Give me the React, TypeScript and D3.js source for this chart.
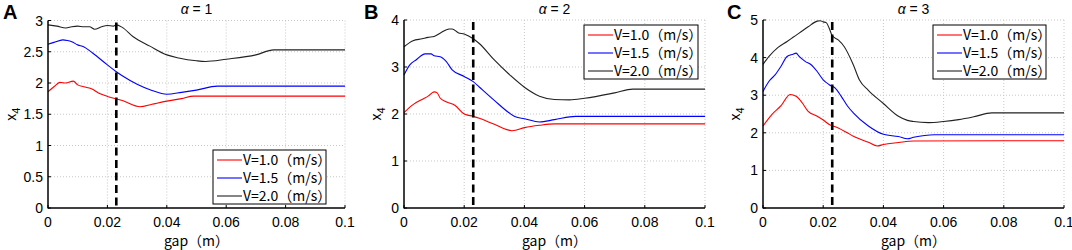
import React from "react";
import * as d3 from "d3";

// ---------- data ----------
const xTicks = [0, 0.02, 0.04, 0.06, 0.08, 0.1];
const xTickLabels = ["0", "0.02", "0.04", "0.06", "0.08", "0.1"];
const seriesNames = ["V=1.0（m/s）", "V=1.5（m/s）", "V=2.0（m/s）"];
const seriesColors = ["#ff0000", "#0000ff", "#222222"];
const dashedGap = 0.023;

// Panel A (alpha = 1)
const gapA10 = [0, 0.002, 0.004, 0.006, 0.0085, 0.01, 0.012, 0.015, 0.017, 0.02, 0.025, 0.031, 0.035, 0.04, 0.045, 0.049, 0.1];
const valA10 = [1.86, 1.94, 2.01, 2.0, 2.03, 1.97, 1.94, 1.9, 1.84, 1.785, 1.72, 1.62, 1.66, 1.71, 1.75, 1.79, 1.79];
const gapA15 = [0, 0.002, 0.005, 0.0065, 0.008, 0.01, 0.012, 0.015, 0.02, 0.023, 0.025, 0.03, 0.035, 0.04, 0.045, 0.05, 0.057, 0.1];
const valA15 = [2.62, 2.65, 2.69, 2.68, 2.66, 2.61, 2.58, 2.48, 2.29, 2.18, 2.115, 1.98, 1.88, 1.82, 1.85, 1.886, 1.95, 1.95];
const gapA20 = [0, 0.003, 0.006, 0.008, 0.01, 0.012, 0.014, 0.0157, 0.018, 0.02, 0.022, 0.023, 0.025, 0.0287, 0.0343, 0.04, 0.044, 0.05, 0.053, 0.06, 0.07, 0.076, 0.1];
const valA20 = [2.93, 2.91, 2.88, 2.9, 2.91, 2.9, 2.9, 2.86, 2.9, 2.92, 2.91, 2.93, 2.89, 2.74, 2.59, 2.45, 2.4, 2.355, 2.345, 2.38, 2.45, 2.53, 2.53];

// Panel B (alpha = 2)
const gapB10 = [0, 0.003, 0.006, 0.008, 0.01, 0.011, 0.012, 0.014, 0.017, 0.02, 0.023, 0.025, 0.03, 0.036, 0.04, 0.045, 0.05, 0.1];
const valB10 = [2.03, 2.2, 2.31, 2.38, 2.47, 2.45, 2.34, 2.26, 2.18, 2.0, 1.95, 1.91, 1.78, 1.645, 1.71, 1.76, 1.79, 1.79];
const gapB15 = [0, 0.002, 0.004, 0.007, 0.009, 0.01, 0.012, 0.014, 0.016, 0.02, 0.023, 0.025, 0.03, 0.035, 0.037, 0.04, 0.045, 0.05, 0.057, 0.1];
const valB15 = [2.83, 3.05, 3.15, 3.28, 3.28, 3.24, 3.22, 3.12, 2.94, 2.8, 2.69, 2.575, 2.29, 2.02, 1.94, 1.9, 1.83, 1.88, 1.95, 1.95];
const gapB20 = [0, 0.003, 0.006, 0.008, 0.01, 0.012, 0.015, 0.016, 0.018, 0.02, 0.023, 0.025, 0.03, 0.035, 0.04, 0.045, 0.05, 0.055, 0.06, 0.07, 0.076, 0.1];
const valB20 = [3.43, 3.56, 3.6, 3.63, 3.65, 3.72, 3.81, 3.81, 3.73, 3.7, 3.6, 3.5, 3.15, 2.84, 2.57, 2.38, 2.31, 2.3, 2.335, 2.45, 2.53, 2.53];

// Panel C (alpha = 3)
const gapC10 = [0, 0.003, 0.006, 0.009, 0.011, 0.013, 0.015, 0.018, 0.02, 0.022, 0.025, 0.028, 0.03, 0.035, 0.038, 0.04, 0.045, 0.05, 0.1];
const valC10 = [2.18, 2.49, 2.72, 3.02, 2.97, 2.8, 2.57, 2.44, 2.34, 2.22, 2.13, 2.0, 1.91, 1.75, 1.65, 1.69, 1.74, 1.78, 1.79];
const gapC15 = [0, 0.002, 0.004, 0.006, 0.008, 0.01, 0.011, 0.012, 0.014, 0.016, 0.018, 0.02, 0.022, 0.024, 0.026, 0.028, 0.03, 0.035, 0.04, 0.045, 0.048, 0.05, 0.057, 0.1];
const valC15 = [3.1, 3.37, 3.54, 3.77, 4.03, 4.09, 4.12, 4.03, 3.9, 3.81, 3.63, 3.41, 3.28, 3.19, 2.97, 2.72, 2.53, 2.18, 1.96, 1.9, 1.84, 1.88, 1.95, 1.95];
const gapC20 = [0, 0.002, 0.005, 0.008, 0.01, 0.012, 0.015, 0.018, 0.019, 0.02, 0.021, 0.022, 0.023, 0.025, 0.027, 0.03, 0.032, 0.035, 0.04, 0.045, 0.048, 0.05, 0.055, 0.06, 0.065, 0.07, 0.076, 0.1];
const valC20 = [3.82, 4.03, 4.27, 4.43, 4.54, 4.65, 4.82, 4.97, 4.98, 4.95, 4.93, 4.78, 4.58, 4.47, 4.29, 3.81, 3.41, 3.13, 2.78, 2.44, 2.33, 2.3, 2.27, 2.3, 2.35, 2.425, 2.53, 2.53];

const yTicksA = [0, 0.5, 1, 1.5, 2, 2.5, 3];
const yTicksB = [0, 1, 2, 3, 4];
const yTicksC = [0, 1, 2, 3, 4, 5];
const panelLetters = ["A", "B", "C"];
const panelAlphas = ["1", "2", "3"];

// ---------- layout ----------
const W = 1072;
const H = 250;
const FONT = "'Liberation Sans', Arial, sans-serif";
const JFONT = "'Noto Sans CJK JP', 'Liberation Sans', sans-serif";

type PanelCfg = {
  left: number; right: number; top: number; bottom: number;
  yTicks: number[];
  series: [number[], number[]][];
  letter: string; alpha: string;
  legend: { x: number; y: number; w: number; h: number };
  letterX: number; ylabX: number;
};

const panels: PanelCfg[] = [
  {
    left: 48, right: 345, top: 20.5, bottom: 208,
    yTicks: yTicksA,
    series: [[gapA10, valA10], [gapA15, valA15], [gapA20, valA20]],
    letter: panelLetters[0], alpha: panelAlphas[0],
    legend: { x: 213, y: 150, w: 113, h: 54 },
    letterX: 3, ylabX: 16,
  },
  {
    left: 404, right: 705, top: 20, bottom: 208,
    yTicks: yTicksB,
    series: [[gapB10, valB10], [gapB15, valB15], [gapB20, valB20]],
    letter: panelLetters[1], alpha: panelAlphas[1],
    legend: { x: 584, y: 25, w: 114, h: 54 },
    letterX: 364, ylabX: 381,
  },
  {
    left: 763, right: 1064, top: 20, bottom: 208,
    yTicks: yTicksC,
    series: [[gapC10, valC10], [gapC15, valC15], [gapC20, valC20]],
    letter: panelLetters[2], alpha: panelAlphas[2],
    legend: { x: 933, y: 25, w: 113, h: 54 },
    letterX: 727, ylabX: 740,
  },
];

function Panel({ p }: { p: PanelCfg }) {
  const yMax = p.yTicks[p.yTicks.length - 1];
  const x = d3.scaleLinear().domain([0, 0.1]).range([p.left, p.right]);
  const y = d3.scaleLinear().domain([0, yMax]).range([p.bottom, p.top]);
  const line = d3
    .line<[number, number]>()
    .x((d) => x(d[0]))
    .y((d) => y(d[1]))
    .curve(d3.curveMonotoneX);
  const midX = (p.left + p.right) / 2;
  const midY = (p.top + p.bottom) / 2;
  const rowH = 18;
  return (
    <g>
      {/* grid */}
      {xTicks.slice(1).map((t, i) => (
        <line key={"gx" + i} x1={x(t)} x2={x(t)} y1={p.top} y2={p.bottom}
          stroke="#c8c8c8" strokeWidth={1} strokeDasharray="1,2" />
      ))}
      {p.yTicks.slice(1).map((t, i) => (
        <line key={"gy" + i} x1={p.left} x2={p.right} y1={y(t)} y2={y(t)}
          stroke="#c8c8c8" strokeWidth={1} strokeDasharray="1,2" />
      ))}
      {/* tick marks (inward) */}
      {xTicks.map((t, i) => (
        <line key={"tx" + i} x1={x(t)} x2={x(t)} y1={p.bottom} y2={p.bottom - 3}
          stroke="#000" strokeWidth={1} />
      ))}
      {p.yTicks.map((t, i) => (
        <line key={"ty" + i} x1={p.left} x2={p.left + 3} y1={y(t)} y2={y(t)}
          stroke="#000" strokeWidth={1} />
      ))}
      {/* curves */}
      {p.series.map((s, i) => {
        const pts = s[0].map((g, k) => [g, s[1][k]] as [number, number]);
        return (
          <path key={"s" + i} d={line(pts) || ""} fill="none"
            stroke={seriesColors[i]} strokeWidth={1.1} />
        );
      })}
      {/* dashed line */}
      <line x1={x(dashedGap)} x2={x(dashedGap)} y1={p.top + 2} y2={p.bottom}
        stroke="#000" strokeWidth={2.6} strokeDasharray="8,4.5" />
      {/* axes */}
      <line x1={p.left} x2={p.left} y1={p.top} y2={p.bottom + 0.5} stroke="#000" strokeWidth={1.5} />
      <line x1={p.left} x2={p.right} y1={p.bottom} y2={p.bottom} stroke="#000" strokeWidth={1.5} />
      {/* tick labels */}
      {xTicks.map((t, i) => (
        <text key={"lx" + i} x={x(t)} y={p.bottom + 19} textAnchor="middle"
          fontFamily={FONT} fontSize={14} fill="#000">{xTickLabels[i]}</text>
      ))}
      {p.yTicks.map((t, i) => (
        <text key={"ly" + i} x={p.left - 5} y={y(t) + 5} textAnchor="end"
          fontFamily={FONT} fontSize={14} fill="#000">{String(t)}</text>
      ))}
      {/* labels */}
      <text x={midX} y={p.bottom + 38} textAnchor="middle" fontFamily={JFONT} fontSize={14} fill="#000">
        gap（m）
      </text>
      <text transform={`translate(${p.ylabX},${midY}) rotate(-90)`} textAnchor="middle"
        fontFamily={FONT} fontSize={14} fill="#000">
        x<tspan fontSize={11} dy={4}>4</tspan>
      </text>
      <text x={midX} y={14} textAnchor="middle" fontFamily={FONT} fontSize={14} fill="#000">
        <tspan fontStyle="italic">α</tspan> = {p.alpha}
      </text>
      <text x={p.letterX} y={18.5} fontFamily={FONT} fontSize={20} fontWeight="bold" fill="#000">
        {p.letter}
      </text>
      {/* legend */}
      <rect x={p.legend.x} y={p.legend.y} width={p.legend.w} height={p.legend.h}
        fill="#fff" stroke="#000" strokeWidth={1} />
      {seriesNames.map((n, i) => {
        const ry = p.legend.y + 10 + i * rowH;
        return (
          <g key={"lg" + i}>
            <line x1={p.legend.x + 4} x2={p.legend.x + 29} y1={ry} y2={ry}
              stroke={seriesColors[i]} strokeWidth={1.1} />
            <text x={p.legend.x + 30} y={ry + 5} fontFamily={JFONT} fontSize={14} fill="#000">{n}</text>
          </g>
        );
      })}
    </g>
  );
}

export default function App() {
  return (
    <svg width={W} height={H} style={{ display: "block", position: "absolute", left: 0, top: 0, background: "#fff" }}>
      <rect width={W} height={H} fill="#fff" />
      {panels.map((p, i) => (
        <Panel key={i} p={p} />
      ))}
    </svg>
  );
}
